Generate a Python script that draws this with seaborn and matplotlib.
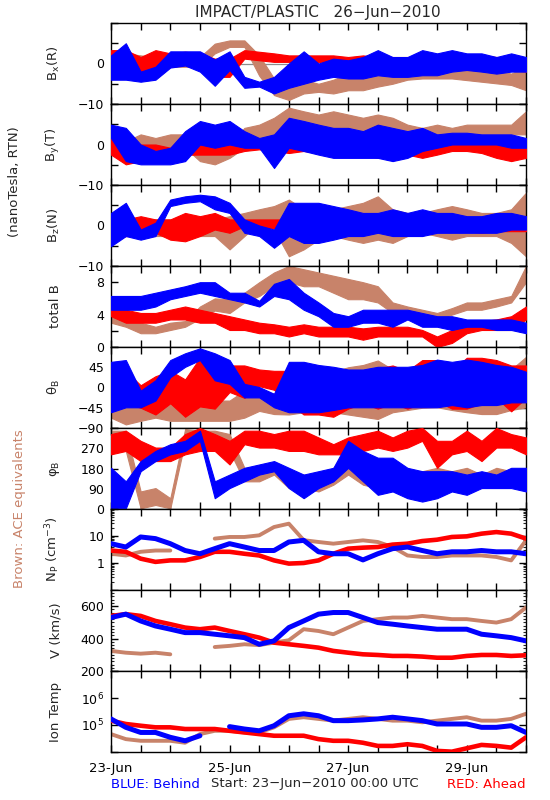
import numpy as np
import pandas as pd
import seaborn as sns
import matplotlib
matplotlib.use("Agg")
import matplotlib.pyplot as plt
from matplotlib.ticker import FixedLocator, LogLocator, MultipleLocator, NullFormatter

nan = np.nan

# sample times, hours after 23-Jun-2010 00:00 UTC
hours = [0, 6, 12, 18, 24, 30, 36, 42, 48, 54, 60, 66, 72, 78, 84, 90, 96,
         102, 108, 114, 120, 126, 132, 138, 144, 150, 156, 162, 168]
x_ticklabels = ['23-Jun', '25-Jun', '27-Jun', '29-Jun']

# magnetic field envelopes (low / high of the scatter), nT
bx_blue_lo = [-4, -4, -4.5, -4, -1, -0.5, -2, -5.5, -1.6, -6, -5.7, -7.4, -6, -5, -4, -3.3, -3.7, -3.7, -2.9, -3.3, -3.3, -2.9, -2.9, -2, -1.6, -2, -2.5, -2, -2]
bx_blue_hi = [2, 5, -2, -0.8, 3, 3, 3, 1, 3, -3.3, -4.5, -3.3, 0, 3, 0, 1.2, 0.8, 1.6, 3.3, 1.6, 1.6, 3.3, 2.5, 3.3, 2.5, 2.5, 1.6, 2.5, 1.6]
bx_red_lo = [-1.2, -3.3, -3.7, -3.7, -0.8, -0.4, -0.8, -3.3, -3.3, 1.2, 0.8, 0.4, 0.4, 0, 0.4, 0, -0.4, -1.2, -1.6, -1.2, -1.2, -1.6, -0.8, -1.2, -1.6, -1.6, -2, -1.6, -2]
bx_red_hi = [3.3, 3.3, 1.6, 3.3, 2.5, 2.9, 2.5, 1.2, 1.2, 3.3, 2.9, 2.5, 2, 2, 2, 2, 1.6, 2, 1.6, 1.6, 1.6, 1.6, 2, 1.6, 1.2, 2, 1.6, 1.2, 0.8]
bx_ace_lo = [0, 0.8, 0, -0.8, -0.8, -0.8, -0.8, 2.5, 4.1, 4.1, -3, -7.8, -9, -7.4, -7, -7.4, -6.6, -6.6, -5.7, -5, -4, -3.7, -3.7, -3.7, -4.1, -4.5, -4.9, -5.3, -6.6]
bx_ace_hi = [3.3, 2.5, 2, 1.6, 1.6, 1.6, 1.6, 4.9, 5.7, 5.7, 2, -3.7, -4, -4, -5, -4, -2.5, -2.5, -2.5, -0.8, 0, 0.8, 0, -0.8, -0.8, -1.6, -1.6, -2.5, -0.8]

by_blue_lo = [1.6, -4.1, -4.9, -4.9, -4.9, -4.1, 0, -0.8, 0, -0.8, -0.8, -5.8, -0.8, -1.6, -2.5, -3.3, -3.3, -3.3, -3.3, -4.1, -3.3, -1.6, -0.8, 0, 0, 0, 0, -0.8, -0.8]
by_blue_hi = [4.9, 4.1, 0, -1.6, -0.8, 3.3, 5.8, 4.9, 5.8, 3.3, 1.6, 2.5, 6.6, 5.8, 4.9, 4.1, 4.1, 3.3, 4.9, 4.1, 3.3, 4.1, 2.5, 2.9, 2.9, 2.5, 2.5, 2.5, 1.6]
by_red_lo = [-2.5, -4.9, -4.1, -4.1, -4.1, -2.5, -2.5, -2.5, -2.5, -1.6, -1.2, -1.6, -2.1, -1.6, -2.1, -1.6, -2.5, -2.5, -3.3, -2.5, -2.5, -3.3, -2.5, -1.6, -1.6, -2.1, -3.3, -4.1, -3.3]
by_red_hi = [2.5, 0.8, 0, 0, -0.8, 2.5, 1.6, 0.8, 0, 0.8, 0.8, 0, 0, 0, 0, 0.8, 0, 0, 0, 0, 0, -0.8, 0, 0.8, 0.8, 0.8, 0, -0.8, -0.8]
by_ace_lo = [0.8, -0.8, 0, 0, -0.8, -0.8, -4.1, -4.9, -3.3, -0.8, 0.8, 0.8, 4.1, 4.1, 2.5, 3.3, 2.5, 2.5, 2.5, 2.5, 0.8, 0.8, 1.6, 1.6, 1.6, 1.6, 1.6, 2.5, 2.5]
by_ace_hi = [3.3, 0.8, 2.5, 1.6, 2.5, 2.5, 0, -0.8, 0, 4.1, 4.9, 6.6, 9.1, 8.2, 7.4, 8.2, 7.4, 6.6, 7.4, 6.6, 4.9, 4.1, 4.9, 4.1, 4.9, 4.9, 4.9, 4.9, 8.2]

bz_blue_lo = [-5.1, -2.6, -3.5, -2.6, 4.8, 5.6, 6, 4, 3.1, -1.8, -2.6, -5.5, -2.6, -4.3, -4.3, -3.5, -2.6, -2.6, -1.8, -2.6, -2.6, -2.6, -1.8, -1.8, -1.8, -1.8, -1.8, -1, -1]
bz_blue_hi = [3.1, 5.6, -1, 0.7, 6.4, 7.2, 7.6, 7.2, 5.6, 1.5, 0, -1, 5.6, 5.6, 5.6, 4.8, 4, 3.1, 3.1, 4, 3.1, 4, 3.1, 3.1, 2.3, 2.3, 3.1, 3.1, 2.3]
bz_red_lo = [-3.5, -2.6, -2.6, -1.8, -3.5, -3.9, -2.6, -1, -1.8, -0.2, -0.6, -0.6, -1, -1.8, -1.8, -1.4, -1.8, -1.4, -1.0, -1.4, -1.8, -1.4, -1.4, -1.0, -1.4, -1.8, -1.4, -1.4, -1.4]
bz_red_hi = [0.7, 1.5, 2.3, 1.5, 1.5, 3.1, 2.3, 3.1, 1.5, 1.5, 1.5, 1.5, 1.5, 1.9, 1.5, 1.5, 1.5, 1.9, 1.5, 1.9, 1.9, 1.5, 1.9, 1.9, 1.5, 1.9, 2.3, 1.9, 1.9]
bz_ace_lo = [-2.6, -2.6, -2.6, -2.6, -2.6, -2.6, -2.6, -2.6, -5.9, -2.6, 0.7, -1, -7.6, -5.9, -3.5, -2.6, -3.5, -4.3, -3.5, -4.3, -2.6, -1.8, -2.6, -3.5, -2.6, -2.6, -2.6, -4.3, -7.6]
bz_ace_hi = [1.5, 1.5, 1.5, 1.5, 1.5, 1.5, 1.5, 1.5, 2.3, 3.1, 4, 4.8, 6.4, 4, 3.1, 4, 4.8, 5.6, 7.2, 4, 3.1, 3.1, 4, 4.8, 4, 3.1, 3.1, 4, 8.1]

totb_blue_lo = [4.6, 4.6, 4.6, 5, 5.9, 6.3, 6.7, 6.3, 5.9, 5.5, 5, 6.3, 5.9, 4.6, 3.8, 2.5, 2.5, 3, 3, 2.5, 3.4, 2.5, 2.5, 2.1, 2.5, 2.5, 2.1, 2.1, 1.7]
totb_blue_hi = [6.3, 6.3, 6.3, 6.7, 7.1, 7.5, 8, 8, 6.7, 6.7, 5.7, 7.8, 8.4, 6.7, 5.5, 4.2, 3.8, 4.6, 4.6, 4.6, 4.6, 4.2, 3.8, 3.8, 3.4, 3.4, 3.4, 3.4, 3]
totb_red_lo = [3.8, 3, 3, 3, 3.4, 3.4, 3, 3, 2.1, 2.1, 1.7, 1.7, 1.3, 1.7, 1.3, 1.3, 1.3, 0.9, 1.3, 1.3, 1.3, 1.3, 0, 0.5, 1.7, 2.1, 2.1, 2.1, 3.4]
totb_red_hi = [5, 4.6, 4.2, 4.2, 4.6, 5, 4.6, 4.2, 3.8, 3.4, 3, 2.8, 2.5, 2.8, 2.5, 2.5, 2.5, 2.3, 2.5, 2.5, 2.5, 2.1, 1.3, 2.1, 3, 3.2, 3.4, 3.8, 5]
totb_ace_lo = [3, 2.5, 1.7, 1.7, 2.1, 2.5, 3.5, 4.5, 4.2, 5.5, 6.3, 7.5, 8, 7.5, 7.5, 6.7, 5.9, 5.9, 5.5, 4.2, 4.2, 3.8, 3.4, 4, 4.6, 4.6, 5, 5.5, 8]
totb_ace_hi = [4.6, 3.8, 3, 2.5, 3, 3.2, 5, 6, 5.9, 6.7, 8, 9.2, 10, 9.6, 9.2, 8.8, 8.4, 8, 7.5, 5.5, 5, 4.6, 4.2, 4.8, 5.5, 5.5, 5.9, 6.3, 10]

# field angles, degrees
theta_blue_lo = [-55, -44, -44, -29, 23, 46, 61, 16, 8, -22, -22, -44, -55, -55, -55, -50, -44, -44, -44, -44, -44, -44, -44, -39, -44, -39, -39, -33, -33]
theta_blue_hi = [57, 61, -7, 16, 61, 76, 87, 76, 61, 8, 1, -14, 57, 57, 50, 46, 40, 40, 46, 46, 46, 50, 62, 57, 62, 57, 50, 46, 35]
theta_red_lo = [-50, -35, -45, -60, -35, -65, -42, -47, -10, -23, 3, -5, -35, -60, -60, -65, -47, -35, -47, -35, -47, -35, -30, -47, -47, -35, -23, -53, -23]
theta_red_hi = [45, 37, 5, 25, 37, 18, 66, 49, 49, 49, 40, 37, 37, 25, 25, 6, 37, 37, 42, 49, 37, 61, 61, 37, 66, 66, 61, 49, 49]
theta_ace_lo = [-67, -82, -74, -67, -74, -74, -74, -74, -74, -67, -52, -59, -60, -55, -50, -55, -60, -65, -70, -55, -50, -45, -44, -50, -55, -59, -59, -50, -44]
theta_ace_hi = [-29, -37, -29, -37, -29, -29, -29, -29, -29, -7, -7, -14, 40, 35, 40, 35, 45, 50, 60, 40, 35, 30, 31, 25, 20, 16, 16, 40, 68]

phi_blue_lo = [3, 3, 168, 213, 243, 258, 303, 48, 93, 123, 153, 168, 93, 48, 93, 123, 183, 123, 63, 78, 48, 33, 48, 78, 63, 93, 93, 93, 78]
phi_blue_hi = [183, 123, 213, 258, 288, 303, 348, 123, 153, 183, 198, 213, 183, 153, 168, 183, 303, 258, 228, 228, 183, 168, 168, 168, 153, 168, 153, 183, 183]
phi_red_lo = [243, 258, 213, 213, 213, 243, 258, 258, 198, 288, 273, 273, 258, 258, 243, 243, 243, 258, 273, 258, 273, 303, 183, 243, 258, 213, 273, 273, 243]
phi_red_hi = [333, 348, 303, 273, 273, 333, 360, 333, 303, 348, 348, 333, 348, 348, 318, 288, 318, 333, 348, 318, 348, 360, 303, 303, 348, 303, 360, 333, 318]
phi_ace_lo = [258, 258, 3, 18, 3, 303, 288, 273, 258, 123, 123, 153, 93, 93, 78, 108, 153, 108, 93, 108, 78, 93, 123, 108, 123, 93, 123, 108, 93]
phi_ace_hi = [348, 348, 78, 93, 48, 355, 348, 348, 333, 183, 183, 198, 138, 153, 138, 183, 258, 228, 153, 183, 168, 168, 183, 168, 183, 153, 183, 168, 153]

# plasma moments
np_blue = [5.2, 3.9, 9.2, 8.0, 5.2, 2.9, 2.2, 3.4, 5.2, 3.9, 2.9, 2.9, 6.0, 6.9, 2.6, 2.2, 2.2, 1.3, 2.2, 3.4, 3.9, 2.9, 2.2, 2.6, 2.6, 2.9, 2.6, 2.6, 2.2]
np_red = [2.9, 2.6, 1.45, 1.1, 1.25, 1.25, 1.67, 2.6, 2.6, 2.2, 1.9, 1.25, 0.95, 1.0, 1.25, 2.2, 3.4, 3.7, 3.9, 4.8, 5.2, 6.5, 7.3, 9.2, 9.7, 12.2, 14, 12.2, 8.0]
np_ace = [2.2, 1.9, 2.6, 2.9, 2.9, nan, nan, 8.0, 9.2, 9.2, 10.6, 21.5, 28.6, 7.0, 6.0, 5.2, 6.0, 6.9, 6.0, 3.9, 1.9, 1.67, 1.67, 1.9, 1.9, 1.9, 1.67, 1.25, 6.9]

v_blue = [530, 551, 509, 478, 458, 437, 437, 427, 417, 406, 365, 386, 468, 509, 551, 561, 561, 530, 499, 489, 478, 468, 458, 458, 458, 427, 417, 406, 386]
v_red = [540, 551, 540, 509, 489, 468, 458, 468, 447, 427, 406, 375, 365, 355, 344, 324, 313, 303, 299, 293, 293, 289, 282, 282, 293, 299, 299, 293, 297]
v_ace = [324, 313, 307, 313, 303, nan, nan, 348, 355, 365, 360, 375, 390, 458, 447, 427, 468, 509, 520, 530, 530, 540, 530, 520, 520, 509, 499, 520, 592]

temp_blue = [1.68e5, 8.2e4, 5.3e4, 5.3e4, 3.5e4, 2.6e4, 4.0e4, nan, 8.7e4, 7.1e4, 6.1e4, 9.4e4, 2.2e5, 2.6e5, 2.2e5, 1.45e5, 1.45e5, 1.54e5, 1.68e5, 1.94e5, 1.68e5, 1.45e5, 1.09e5, 1.09e5, 1.09e5, 8.2e4, 8.2e4, 9.4e4, 5.3e4]
temp_red = [1.45e5, 1.09e5, 9.4e4, 8.2e4, 8.2e4, 7.1e4, 7.1e4, 7.1e4, 6.1e4, 5.3e4, 4.6e4, 4.0e4, 4.0e4, 4.0e4, 3.0e4, 2.6e4, 2.6e4, 2.2e4, 1.68e4, 1.68e4, 1.94e4, 1.68e4, 1.1e4, 1.03e4, 1.37e4, 1.83e4, 1.68e4, 1.45e4, 3.5e4]
temp_ace = [4.6e4, 3.0e4, 2.6e4, 2.6e4, 2.6e4, 2.2e4, 4.6e4, 6.1e4, 6.1e4, 5.3e4, 5.3e4, 8.2e4, 1.68e5, 1.94e5, 1.68e5, 1.45e5, 1.68e5, 1.94e5, 1.68e5, 1.45e5, 1.45e5, 1.26e5, 1.45e5, 1.68e5, 1.94e5, 1.45e5, 1.45e5, 1.68e5, 2.6e5]

BLUE = '#0000ff'
RED = '#ff0000'
BROWN = '#c8836a'

sns.set_style("ticks")
plt.rcParams['font.family'] = ['DejaVu Sans']
plt.rcParams['mathtext.default'] = 'regular'

days = np.array(hours) / 24.0
xticks = [k * 0.5 for k in range(15)]

fig = plt.figure(figsize=(5.5, 8), dpi=100)
W, H = 550.0, 800.0
left, right, top, ph = 111, 526, 23, 81


def make_ax(i):
    y0 = top + ph * i
    return fig.add_axes([left / W, 1 - (y0 + ph) / H, (right - left) / W, ph / H])


def style(ax, ylabel, bottom=False):
    ax.set_xlim(0, 7)
    ax.xaxis.set_major_locator(FixedLocator(xticks))
    if bottom:
        ax.set_xticklabels(['' if k % 4 else x_ticklabels[k // 4] for k in range(15)])
    else:
        ax.set_xticklabels([])
    ax.tick_params(which='major', direction='in', top=True, right=True,
                   length=5, width=1, labelsize=9, pad=5, colors='black')
    ax.tick_params(which='minor', direction='in', top=True, right=True,
                   length=2.5, width=0.8)
    ax.tick_params(axis='x', pad=7, labelsize=9.5)
    for s in ax.spines.values():
        s.set_linewidth(1)
        s.set_color('black')
    ax.set_ylabel(ylabel, fontsize=9.5)
    ax.yaxis.set_label_coords(-0.118, 0.5)


band_panels = [
    ('B$_x$(R)', (bx_ace_lo, bx_ace_hi), (bx_red_lo, bx_red_hi), (bx_blue_lo, bx_blue_hi),
     (-10, 10), [-10, -5, 0, 5, 10], ['\u221210', '', '0', '', ''], True),
    ('B$_y$(T)', (by_ace_lo, by_ace_hi), (by_red_lo, by_red_hi), (by_blue_lo, by_blue_hi),
     (-10, 10), [-10, -5, 0, 5, 10], ['\u221210', '', '0', '', ''], True),
    ('B$_z$(N)', (bz_ace_lo, bz_ace_hi), (bz_red_lo, bz_red_hi), (bz_blue_lo, bz_blue_hi),
     (-10, 10), [-10, -5, 0, 5, 10], ['\u221210', '', '0', '', ''], True),
    ('total B', (totb_ace_lo, totb_ace_hi), (totb_red_lo, totb_red_hi), (totb_blue_lo, totb_blue_hi),
     (0, 10), [0, 2, 4, 6, 8, 10], ['0', '', '4', '', '8', ''], False),
    ('\u03b8$_B$', (theta_ace_lo, theta_ace_hi), (theta_red_lo, theta_red_hi), (theta_blue_lo, theta_blue_hi),
     (-90, 90), [-90, -45, 0, 45, 90], ['\u221290', '\u221245', '0', '45', ''], False),
    ('\u03c6$_B$', (phi_ace_lo, phi_ace_hi), (phi_red_lo, phi_red_hi), (phi_blue_lo, phi_blue_hi),
     (0, 360), [0, 90, 180, 270, 360], ['0', '90', '180', '270', ''], False),
]

for i, (lab, ace, red, blue, ylim, yt, ytl, zero) in enumerate(band_panels):
    ax = make_ax(i)
    if zero:
        ax.axhline(0, color='0.55', lw=0.9, zorder=1)
    for (lo, hi), c, z in [(ace, BROWN, 2), (red, RED, 3), (blue, BLUE, 4)]:
        ax.fill_between(days, lo, hi, color=c, lw=0.8, edgecolor=c, zorder=z)
    ax.set_ylim(*ylim)
    ax.set_yticks(yt)
    ax.set_yticklabels(ytl)
    style(ax, lab)

line_panels = [
    ('N$_P$ (cm$^{-3}$)', np_ace, np_red, np_blue, 'log', (0.1, 100),
     [0.1, 1, 10, 100], ['', '1', '10', '']),
    ('V (km/s)', v_ace, v_red, v_blue, 'linear', (200, 700),
     [200, 400, 600], ['200', '400', '600']),
    ('Ion Temp', temp_ace, temp_red, temp_blue, 'log', (1e4, 1e7),
     [1e4, 1e5, 1e6, 1e7], ['', '10$^5$', '10$^6$', '']),
]

for j, (lab, ace, red, blue, scale, ylim, yt, ytl) in enumerate(line_panels):
    ax = make_ax(6 + j)
    df = pd.DataFrame({'day': days, 'ace': ace, 'red': red, 'blue': blue})
    ax.plot(df['day'], df['ace'], color=BROWN, lw=2.8, zorder=2)
    ax.plot(df['day'], df['red'], color=RED, lw=3.3, zorder=3)
    ax.plot(df['day'], df['blue'], color=BLUE, lw=3.6, zorder=4)
    ax.set_yscale(scale)
    ax.set_ylim(*ylim)
    ax.yaxis.set_major_locator(FixedLocator(yt))
    ax.set_yticklabels(ytl)
    if scale == 'log':
        ax.yaxis.set_minor_locator(LogLocator(base=10, subs=range(2, 10)))
        ax.yaxis.set_minor_formatter(NullFormatter())
    else:
        ax.yaxis.set_minor_locator(MultipleLocator(20))
    style(ax, lab, bottom=(j == 2))

fig.text(318 / W, 1 - 12 / H, 'IMPACT/PLASTIC   26\u2212Jun\u22122010',
         ha='center', va='center', fontsize=11)
fig.text(15 / W, 1 - 182 / H, '(nanoTesla, RTN)', rotation=90,
         ha='center', va='center', fontsize=9.5)
fig.text(20 / W, 1 - 509 / H, 'Brown: ACE equivalents', rotation=90,
         ha='center', va='center', fontsize=9.5, color=BROWN)
fig.text(111 / W, 1 - 784 / H, 'BLUE: Behind', ha='left', va='center',
         fontsize=9.5, color=BLUE)
fig.text(211 / W, 1 - 784 / H, 'Start: 23\u2212Jun\u22122010 00:00 UTC', ha='left',
         va='center', fontsize=9.5)
fig.text(526 / W, 1 - 784 / H, 'RED: Ahead', ha='right', va='center',
         fontsize=9.5, color=RED)

fig.savefig('out.png', dpi=100)
